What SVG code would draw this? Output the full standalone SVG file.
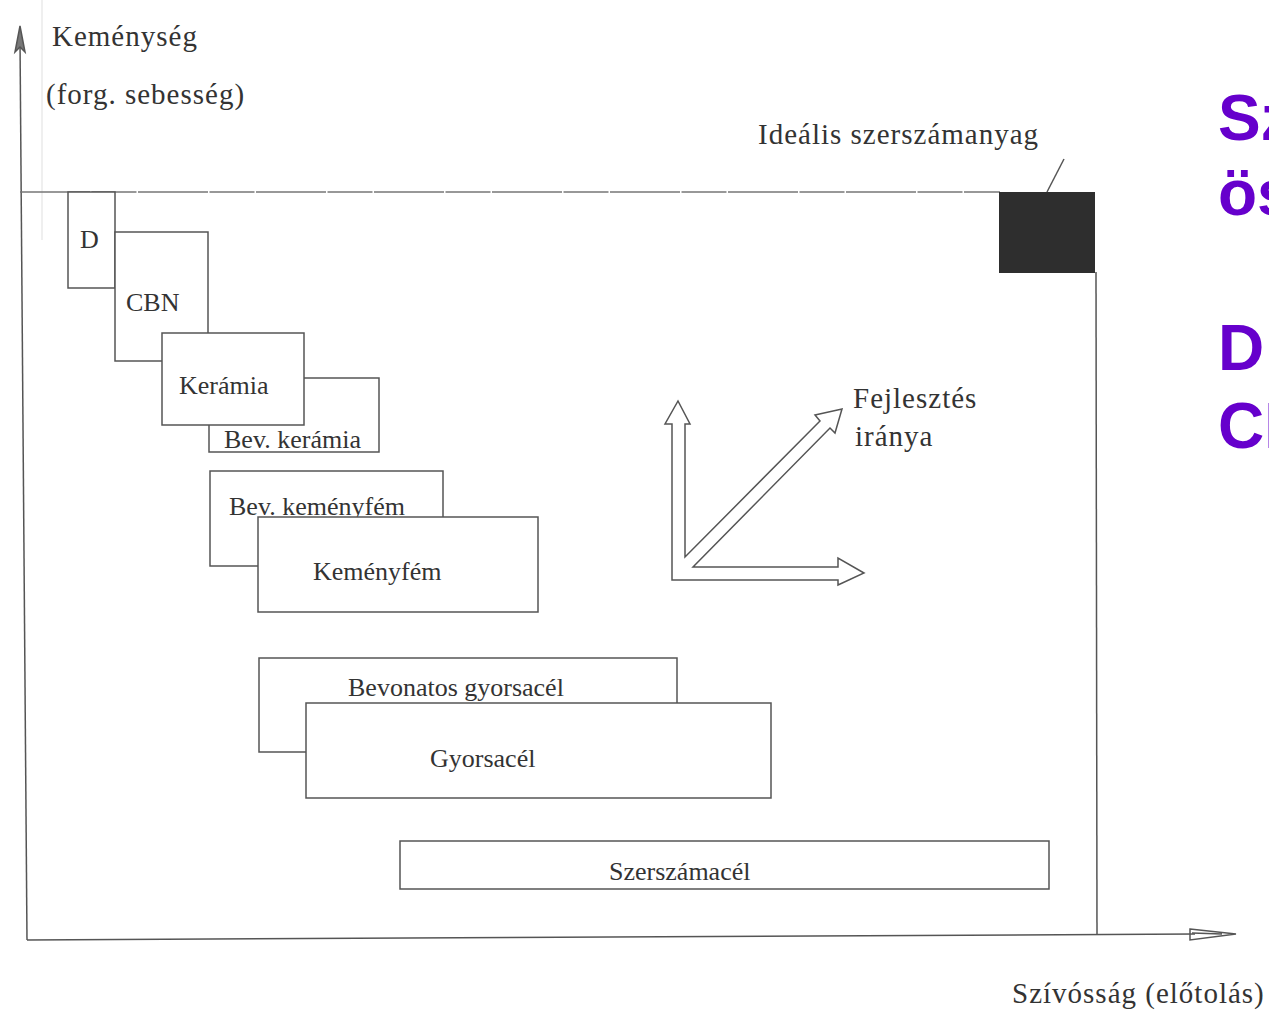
<svg xmlns="http://www.w3.org/2000/svg" width="1269" height="1011" viewBox="0 0 1269 1011">
<style>
.t{font-family:"Liberation Serif","Times New Roman",serif;fill:#333;font-size:26px}
.L{font-size:29px;letter-spacing:1px}
.box{fill:#fff;stroke:#555;stroke-width:1.5}
.ln{fill:none;stroke:#555;stroke-width:1.5}
.p{font-family:"Liberation Sans",Arial,sans-serif;font-weight:bold;fill:#6600cc;font-size:64px}
</style>
<rect width="1269" height="1011" fill="#fff"/>
<g id="axes">
<line x1="42" y1="0" x2="42" y2="240" stroke="#e4e4e4" stroke-width="1.2"/>
<line x1="20" y1="40" x2="27" y2="940" class="ln" stroke-width="2"/>
<path d="M20,26 L15,52 L20,47 L25,52 Z" fill="#777" stroke="#555" stroke-width="1.5"/>
<line x1="27" y1="940" x2="1195" y2="934" class="ln" stroke-width="1.8"/>
<path d="M1190,929 L1236,934 L1190,940 Z M1192,933 L1222,934" fill="none" stroke="#555" stroke-width="1.5"/>
<line x1="20" y1="192" x2="1000" y2="192" stroke="#777" stroke-width="1.3" stroke-dasharray="70 1.5 45 1.5"/>
<line x1="1096" y1="272" x2="1097" y2="935" class="ln"/>
</g>
<g id="labels">
<text class="t L" x="52" y="46">Keménység</text>
<text class="t L" x="46" y="104">(forg. sebesség)</text>
<text class="t L" x="1012" y="1003">Szívósság (előtolás)</text>
</g>
<g id="ideal">
<rect x="999" y="192" width="96" height="81" fill="#2e2e2e"/>
<line x1="1047" y1="192" x2="1064" y2="159" class="ln"/>
<text class="t L" x="758" y="144">Ideális szerszámanyag</text>
</g>
<g id="D"><rect class="box" x="68" y="192" width="47" height="96"/><text class="t" x="80" y="248" font-size="27">D</text></g>
<g id="CBN"><rect class="box" x="115" y="232" width="93" height="129"/><text class="t" x="126" y="311" font-size="27">CBN</text></g>
<g id="BevKeramia"><rect class="box" x="209" y="378" width="170" height="74"/><text class="t" x="224" y="448" font-size="26.5">Bev. kerámia</text></g>
<g id="Keramia"><rect class="box" x="162" y="333" width="142" height="92"/><text class="t" x="179" y="394">Kerámia</text></g>
<g id="BevKemenyfem"><rect class="box" x="210" y="471" width="233" height="95"/><text class="t" x="229" y="515" font-size="26.5">Bev. keményfém</text></g>
<g id="Kemenyfem"><rect class="box" x="258" y="517" width="280" height="95"/><text class="t" x="313" y="580">Keményfém</text></g>
<g id="BevGyorsacel"><rect class="box" x="259" y="658" width="418" height="94"/><text class="t" x="348" y="696" font-size="25.7">Bevonatos gyorsacél</text></g>
<g id="Gyorsacel"><rect class="box" x="306" y="703" width="465" height="95"/><text class="t" x="430" y="767" font-size="25.5">Gyorsacél</text></g>
<g id="Szerszamacel"><rect class="box" x="400" y="841" width="649" height="48"/><text class="t" x="609" y="880" font-size="23.3">Szerszámacél</text></g>
<g id="fejlesztes">
<path class="ln" d="M672,580 L672,424 L665,424 L678,401 L690,424 L685,424 L685,557 L820,421 L815,415 L842,409 L835,433 L830,428 L693,567 L838,567 L838,558 L864,573 L838,585 L838,580 Z"/>
<text class="t L" x="853" y="408">Fejlesztés</text>
<text class="t L" x="855" y="446">iránya</text>
</g>
<g id="side">
<text class="p" x="1218" y="140">Sz</text>
<text class="p" x="1218" y="215">ös</text>
<text class="p" x="1218" y="370">D:</text>
<text class="p" x="1218" y="448">CB</text>
</g>
</svg>
